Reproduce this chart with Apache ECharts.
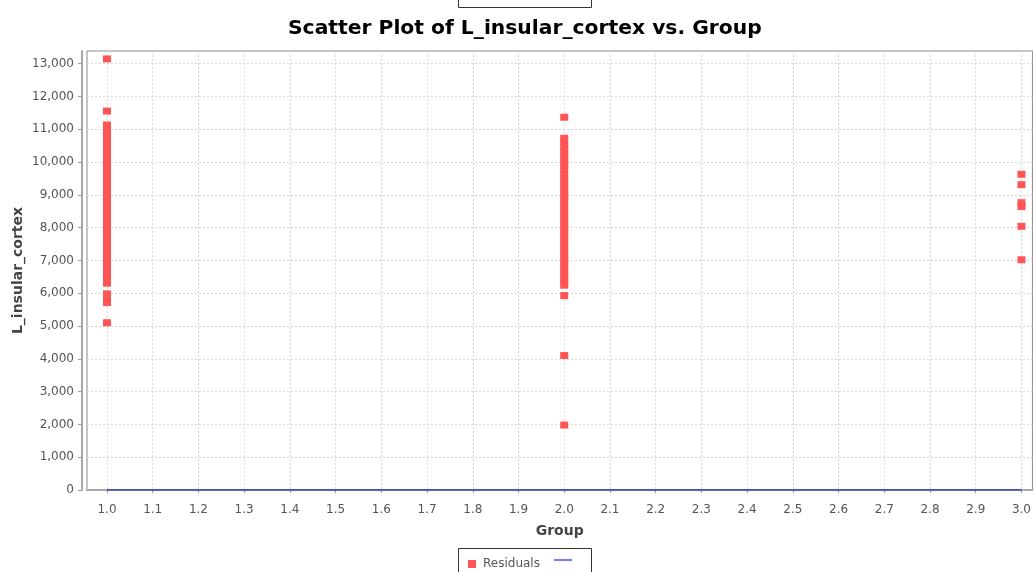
<!DOCTYPE html>
<html>
<head>
<meta charset="utf-8">
<script src="https://cdn.jsdelivr.net/npm/echarts@6/dist/echarts.min.js"></script>
<style>
  html, body { margin: 0; padding: 0; background: #fff; }
  #chart { width: 1034px; height: 572px; }
</style>
</head>
<body>
<div id="chart"></div>
<script>
// group positions on the x axis
const groupX = [1.0, 2.0, 3.0];

// L_insular_cortex values, one list per group
const group1Values = [
  13143, 11551,
  11130, 11010, 10870, 10760, 10600, 10480, 10330, 10210, 10050, 9920,
  9780, 9640, 9510, 9370, 9230, 9090, 8960, 8820, 8680, 8540, 8410,
  8270, 8130, 7990, 7860, 7720, 7580, 7440, 7310, 7170, 7030, 6890,
  6760, 6620, 6480, 6306,
  5980, 5850, 5715, 5100
];
const group2Values = [
  11366,
  10725, 10590, 10460, 10320, 10180, 10040, 9910, 9770, 9630, 9490,
  9360, 9220, 9080, 8940, 8810, 8670, 8530, 8390, 8260, 8120, 7980,
  7840, 7710, 7570, 7430, 7290, 7160, 7020, 6880, 6740, 6610, 6470,
  6350, 6244,
  5927, 4100, 1980
];
const group3Values = [9625, 9310, 8760, 8640, 8040, 7020];

// residual reference line
const residualX = [1.0, 3.0];
const residualY = [0, 0];

// tick labels
const xTicks = [1.0, 1.1, 1.2, 1.3, 1.4, 1.5, 1.6, 1.7, 1.8, 1.9, 2.0,
                2.1, 2.2, 2.3, 2.4, 2.5, 2.6, 2.7, 2.8, 2.9, 3.0];
const yTicks = [0, 1000, 2000, 3000, 4000, 5000, 6000, 7000, 8000, 9000,
                10000, 11000, 12000, 13000];

const scatterData = []
  .concat(group1Values.map(v => [groupX[0], v]))
  .concat(group2Values.map(v => [groupX[1], v]))
  .concat(group3Values.map(v => [groupX[2], v]));
const lineData = residualX.map((x, i) => [x, residualY[i]]);

const font = "'DejaVu Sans', Verdana, sans-serif";
const chart = echarts.init(document.getElementById("chart"));

const option = {
  animation: false,
  title: {
    text: "Scatter Plot of L_insular_cortex vs. Group",
    left: 283,
    top: 14,
    textStyle: { fontFamily: font, fontSize: 20.3, fontWeight: "bold", color: "#000" }
  },
  graphic: [
    {
      type: "rect",
      shape: { x: 458.5, y: -20, width: 133, height: 27.5 },
      style: { fill: "none", stroke: "#333", lineWidth: 1 }
    },
    {
      type: "rect",
      shape: { x: 458.5, y: 548.5, width: 133, height: 40 },
      style: { fill: "none", stroke: "#333", lineWidth: 1 }
    }
  ],
  legend: [
    {
      left: 463,
      top: 553,
      itemWidth: 8,
      itemHeight: 8,
      itemGap: 0,
      data: [{ name: "Residuals", icon: "rect" }],
      itemStyle: { color: "#ff5555", opacity: 1 },
      textStyle: { fontFamily: font, fontSize: 12, color: "#555", padding: [0, 0, 0, 2] }
    },
    {
      left: 549,
      top: 549,
      itemWidth: 18,
      itemHeight: 1.5,
      data: [{ name: " ", icon: "rect" }],
      itemStyle: { color: "#4455ff" },
      lineStyle: { opacity: 0 },
      textStyle: { fontFamily: font, fontSize: 12 }
    }
  ],
  grid: {
    left: 87,
    right: 1,
    top: 51,
    bottom: 82,
    show: true,
    borderColor: "#8c8c8c",
    borderWidth: 1,
    backgroundColor: "#fff"
  },
  xAxis: {
    type: "value",
    min: 0.9563,
    max: 3.024,
    offset: 5,
    name: "Group",
    nameLocation: "middle",
    nameGap: 29,
    nameTextStyle: { fontFamily: font, fontSize: 14, fontWeight: "bold", color: "#444" },
    axisLine: { show: true, lineStyle: { color: "#a8a8a8", width: 2 } },
    axisTick: { show: true, length: 3, customValues: xTicks, lineStyle: { color: "#999" } },
    axisLabel: {
      customValues: xTicks,
      margin: 9,
      fontFamily: font,
      fontSize: 12,
      color: "#555",
      formatter: v => v.toFixed(1)
    },
    splitLine: { show: true, lineStyle: { color: "#d8d8d8", type: [2, 2], width: 1 } }
  },
  yAxis: {
    type: "value",
    min: 0,
    max: 13385,
    offset: 5,
    name: "L_insular_cortex",
    nameLocation: "middle",
    nameGap: 57,
    nameMoveOverlap: false,
    nameTextStyle: { fontFamily: font, fontSize: 14, fontWeight: "bold", color: "#444" },
    axisLine: { show: true, lineStyle: { color: "#a8a8a8", width: 2 } },
    axisTick: { show: true, length: 4, customValues: yTicks, lineStyle: { color: "#999" } },
    axisLabel: {
      customValues: yTicks,
      margin: 8,
      fontFamily: font,
      fontSize: 12,
      color: "#555",
      formatter: v => v.toLocaleString("en-US")
    },
    splitLine: { show: true, lineStyle: { color: "#d8d8d8", type: [2, 2], width: 1 } }
  },
  series: [
    {
      name: "Residuals",
      type: "scatter",
      symbol: "rect",
      symbolSize: [8, 7],
      itemStyle: { color: "#ff5555", opacity: 1 },
      data: scatterData,
      z: 3
    },
    {
      name: " ",
      type: "line",
      symbol: "none",
      lineStyle: { color: "#2a3aa8", width: 1.5 },
      itemStyle: { color: "#4455ff" },
      data: lineData,
      z: 4
    }
  ]
};

chart.setOption(option);
</script>
</body>
</html>
